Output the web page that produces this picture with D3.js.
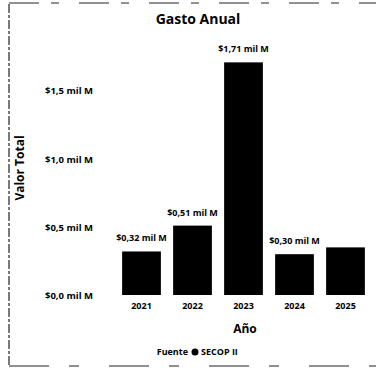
<!DOCTYPE html>
<html>
<head>
<meta charset="utf-8">
<script src="https://cdn.jsdelivr.net/npm/d3@7/dist/d3.min.js"></script>
<style>
  html, body { margin: 0; padding: 0; background: #fff; }
  svg { display: block; }
  text { font-family: "Open Sans", "DejaVu Sans", sans-serif; fill: #000; font-weight: 700; }
</style>
</head>
<body>
<svg id="chart" width="381" height="371"></svg>
<script>
// Annual spend, in thousands of millions of pesos
const years = ["2021", "2022", "2023", "2024", "2025"];
const values = [0.32, 0.51, 1.71, 0.30, 0.35];
const showLabel = [true, true, true, true, false];
const yTicks = [0, 0.5, 1.0, 1.5];

const fmt = v => "$" + d3.format(".2f")(v).replace(".", ",") + " mil M";
const fmtTick = v => "$" + d3.format(".1f")(v).replace(".", ",") + " mil M";

const svg = d3.select("#chart");
const W = 381, H = 371;
const margin = { top: 61, right: 10, bottom: 76, left: 116 };

const x = d3.scaleBand()
  .domain(years)
  .range([margin.left, W - margin.right])
  .paddingInner(0.24)
  .paddingOuter(0.12);

const y = d3.scaleLinear()
  .domain([0, 1.72])
  .range([H - margin.bottom, margin.top]);

// Frame around the card
svg.append("line").attr("x1", 9).attr("x2", 9).attr("y1", 4).attr("y2", 366)
  .attr("stroke", "#222").attr("stroke-width", 1.2).attr("stroke-dasharray", "9 2 3 2");
svg.append("line").attr("x1", 9).attr("x2", 376).attr("y1", 3).attr("y2", 3)
  .attr("stroke", "#222").attr("stroke-width", 1.2).attr("stroke-dasharray", "30 12 8 20");
svg.append("line").attr("x1", 9).attr("x2", 376).attr("y1", 366).attr("y2", 366)
  .attr("stroke", "#222").attr("stroke-width", 1.2).attr("stroke-dasharray", "40 20 10 30");

// Title
svg.append("text")
  .attr("x", 198).attr("y", 24)
  .attr("text-anchor", "middle")
  .style("font-size", "14px")
  .text("Gasto Anual");

// Y axis (labels only)
const yAxis = d3.axisLeft(y).tickValues(yTicks).tickFormat(fmtTick).tickSize(0).tickPadding(0);
const gy = svg.append("g")
  .attr("transform", `translate(${margin.left - 23},0)`)
  .call(yAxis);
gy.select(".domain").remove();
gy.selectAll("text").style("font-size", "9.5px").style("font-family", "'Open Sans', sans-serif").attr("fill", "#000");

// X axis (labels only)
const xAxis = d3.axisBottom(x).tickSize(0).tickPadding(8);
const gx = svg.append("g")
  .attr("transform", `translate(0,${H - margin.bottom})`)
  .call(xAxis);
gx.select(".domain").remove();
gx.selectAll("text").style("font-size", "9px").style("font-family", "'Open Sans', sans-serif").attr("fill", "#000");

// Bars
svg.append("g").selectAll("rect")
  .data(years)
  .join("rect")
  .attr("x", d => x(d))
  .attr("width", x.bandwidth())
  .attr("y", (d, i) => y(values[i]))
  .attr("height", (d, i) => y(0) - y(values[i]))
  .attr("fill", "#000");

// Value labels
svg.append("g").selectAll("text")
  .data(years.filter((d, i) => showLabel[i]))
  .join("text")
  .attr("x", d => x(d) + x.bandwidth() / 2)
  .attr("y", d => y(values[years.indexOf(d)]) - 10)
  .attr("text-anchor", "middle")
  .style("font-size", "9px")
  .text(d => fmt(values[years.indexOf(d)]));

// Axis titles
svg.append("text")
  .attr("transform", `translate(24,${168}) rotate(-90)`)
  .attr("text-anchor", "middle")
  .style("font-size", "12px")
  .text("Valor Total");

svg.append("text")
  .attr("x", 245).attr("y", 333)
  .attr("text-anchor", "middle")
  .style("font-size", "12px")
  .text("Año");

// Source legend
const src = svg.append("g").attr("transform", "translate(196,355)");
src.append("text").attr("x", -8).attr("text-anchor", "end").style("font-size", "9px").text("Fuente");
src.append("circle").attr("cx", -1).attr("cy", -3).attr("r", 3.5).attr("fill", "#000");
src.append("text").attr("x", 5).style("font-size", "9px").text("SECOP II");
</script>
</body>
</html>
